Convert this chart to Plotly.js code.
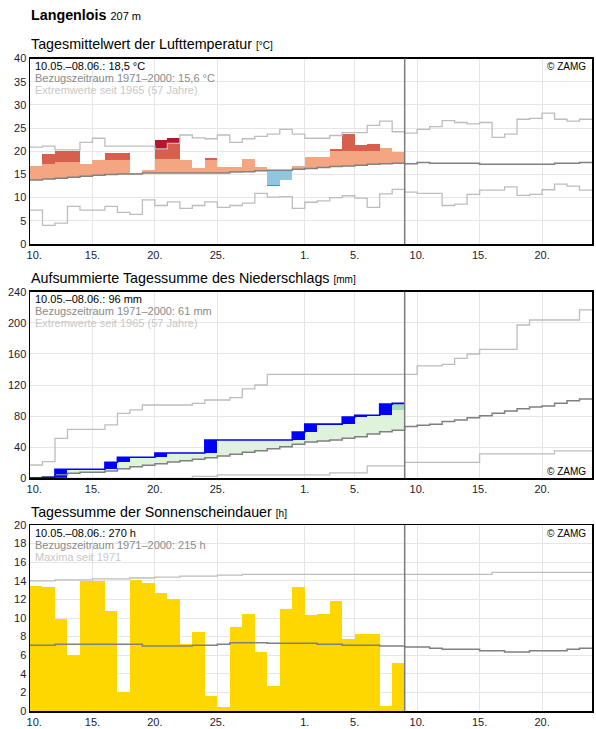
<!DOCTYPE html>
<html>
<head>
<meta charset="utf-8">
<script src="https://cdn.plot.ly/plotly-3.0.1.min.js"></script>
<style>
  html, body { margin: 0; padding: 0; background: #fff; }
  #chart { width: 596px; height: 729px; }
</style>
</head>
<body>
<div id="chart"></div>
<script>
// Tage ab 10. Mai (Index 0) bis 23. Juni (Index 44); gemessen wurde bis 8. Juni (Index 29)
const heute = 30;
const tickTage = [0, 5, 10, 15, 22, 26, 31, 36, 41];
// the first label sits just inside the frame, so it gets a little padding on the left
const tickText = ['\u2007\u200910.', '15.', '20.', '25.', '1.', '5.', '10.', '15.', '20.'];

// ---- Lufttemperatur [°C] ----
const tempMittel = [16.8, 19.4, 20.1, 20.1, 17.3, 18.1, 19.7, 19.7, 15.4, 16.0,
                    22.4, 22.9, 18.1, 16.4, 18.6, 16.6, 16.6, 18.3, 16.6, 12.4,
                    13.8, 16.8, 18.8, 18.8, 20.5, 23.7, 21.3, 21.6, 20.7, 19.9];
const tempWarmGrenze = [null, 17.3, 17.6, 17.7, null, null, 18.1, 18.1, null, null,
                        18.3, 18.3, null, null, 18.1, null, null, null, null, null,
                        null, null, null, null, 20.1, 20.1, 20.1, 20.1, null, null];
const tempKaltGrenze = [null, null, null, null, null, null, null, null, null, null,
                        null, null, null, null, null, null, null, null, null, 12.8,
                        null, null, null, null, null, null, null, null, null, null];
const tempKlima = [13.8, 14.0, 14.2, 14.4, 14.6, 14.8, 15.0, 15.1, 15.1, 15.3,
                   15.3, 15.3, 15.3, 15.3, 15.3, 15.3, 15.5, 15.6, 15.8, 15.9,
                   15.9, 16.1, 16.3, 16.5, 16.7, 16.8, 17.0, 17.2, 17.3, 17.4,
                   17.3, 17.6, 17.4, 17.4, 17.4, 17.4, 17.2, 17.2, 17.2, 17.2,
                   17.2, 17.2, 17.4, 17.4, 17.6];
const tempMax = [20.9, 21.1, 20.3, 20.3, 21.9, 22.8, 21.1, 21.1, 21.1, 21.1,
                 20.5, 21.7, 23.5, 22.9, 22.7, 23.5, 21.9, 22.7, 23.2, 23.7,
                 24.7, 23.7, 22.8, 22.8, 23.4, 24.0, 24.0, 25.6, 26.5, 24.2,
                 23.9, 24.7, 25.3, 26.6, 26.2, 25.9, 26.2, 23.0, 23.7, 26.9,
                 27.1, 28.2, 26.9, 26.5, 26.9];
const tempMin = [7.3, 4.0, 4.5, 8.1, 7.3, 7.3, 8.1, 6.8, 6.4, 9.5,
                 8.3, 9.1, 7.7, 8.3, 9.1, 7.9, 8.3, 8.8, 10.9, 10.1,
                 10.2, 7.7, 9.0, 9.3, 10.0, 10.4, 9.9, 7.9, 10.8, 11.8,
                 11.2, 10.9, 10.9, 8.3, 8.6, 10.7, 11.6, 11.6, 12.3, 10.5,
                 10.7, 11.7, 12.9, 12.5, 11.6];

// ---- Niederschlag, aufsummiert [mm] ----
const niedSumme = [0.3, 1.0, 11.6, 11.6, 11.6, 11.6, 20.6, 27.0, 27.0, 27.0,
                   32.6, 32.6, 32.6, 32.6, 49.3, 49.3, 49.3, 49.3, 49.3, 49.3,
                   49.3, 59.4, 69.7, 69.7, 69.7, 78.7, 81.0, 81.0, 95.4, 96.4];
const niedKlima = [0.8, 2.1, 4.6, 6.4, 7.7, 7.7, 9.4, 12.4, 15.0, 16.7,
                   18.8, 21.0, 22.6, 24.4, 26.5, 28.7, 31.0, 33.5, 35.5, 38.0,
                   40.6, 43.7, 46.7, 47.9, 49.3, 51.4, 53.5, 57.0, 60.0, 61.7,
                   66.5, 68.2, 69.5, 72.9, 75.0, 78.0, 80.6, 83.6, 86.6, 89.6,
                   91.7, 93.0, 96.5, 99.9, 102.0];
const niedMax = [17.1, 21.4, 51.4, 63.0, 63.0, 63.0, 68.6, 83.6, 87.9, 94.3,
                 94.3, 94.3, 94.3, 96.4, 100.7, 100.7, 103.7, 114.9, 120.0, 133.7,
                 133.7, 133.7, 133.7, 133.7, 133.7, 133.7, 133.7, 133.7, 133.7, 133.7,
                 133.7, 144.5, 144.5, 146.6, 154.3, 159.9, 165.9, 165.9, 165.9, 197.2,
                 203.6, 203.6, 203.6, 203.6, 216.5];
const niedMin = [0, 0, 0, 0, 0, 0, 0, 0, 0, 0,
                 0, 0, 0, 2.5, 2.5, 4.4, 4.4, 4.4, 4.4, 4.4,
                 4.4, 4.4, 4.4, 4.4, 7.0, 7.0, 7.0, 15.9, 15.9, 15.9,
                 20.6, 20.6, 20.6, 20.6, 20.6, 20.6, 31.3, 31.3, 31.3, 31.3,
                 31.3, 31.3, 35.2, 35.2, 35.2];
// Anteil des letzten Tages, der noch nicht geprüft ist [mm]
const niedVorlaeufig = [87.8, 95.5];

// ---- Sonnenscheindauer [h] ----
const sonne = [13.4, 13.3, 9.9, 6.0, 14.0, 14.0, 10.8, 2.0, 14.1, 13.8,
               12.7, 12.0, 7.2, 8.5, 1.6, 0.4, 9.0, 10.4, 6.3, 2.7,
               11.0, 13.3, 10.3, 10.4, 11.8, 7.7, 8.3, 8.3, 0.5, 5.2];
const sonneKlima = [7.06, 7.06, 7.17, 7.17, 7.17, 7.17, 7.17, 7.17, 7.17, 7.0,
                    7.0, 7.0, 7.0, 7.06, 7.06, 7.17, 7.35, 7.35, 7.35, 7.28,
                    7.28, 7.28, 7.28, 7.17, 7.17, 7.06, 7.06, 7.06, 6.99, 6.99,
                    6.88, 6.88, 6.74, 6.63, 6.63, 6.63, 6.49, 6.49, 6.34, 6.34,
                    6.49, 6.49, 6.49, 6.63, 6.74];
const sonneMax = [14.0, 14.0, 14.1, 14.1, 14.1, 14.2, 14.2, 14.2, 14.3, 14.3,
                  14.4, 14.4, 14.5, 14.5, 14.5, 14.6, 14.6, 14.7, 14.7, 14.7,
                  14.7, 14.7, 14.7, 14.7, 14.7, 14.7, 14.7, 14.7, 14.7, 14.7,
                  14.7, 14.7, 14.7, 14.7, 14.7, 14.7, 14.7, 14.9, 14.9, 14.9,
                  14.9, 14.9, 14.9, 14.9, 14.9];

// ---------- Hilfsfunktionen ----------
const FONT = 'Liberation Sans, Arial, Helvetica, sans-serif';
const C = {
  lachs: '#f4a582', rot: '#d6604d', dunkelrot: '#b2182b',
  hellblau: '#92c5de', blau: '#4393c3',
  nied: '#0000ff', gruen: '#dff2dc', gruenDunkel: '#a8dcb4', orange: '#f6a93b',
  sonne: '#ffd700', klima: '#808080', extrem: '#bdbdbd', gitter: '#e6e6e6'
};

// Treppenlinie: jeder Wert gilt für einen ganzen Tag
function stufe(werte, xa, ya, farbe, breite) {
  const x = [], y = [];
  werte.forEach((v, i) => { x.push(i); y.push(v); });
  x.push(werte.length); y.push(werte[werte.length - 1]);
  return { type: 'scatter', mode: 'lines', x, y, xaxis: xa, yaxis: ya,
           line: { shape: 'hv', color: farbe, width: breite }, hoverinfo: 'skip' };
}

// Balkenabschnitte von unten nach oben für einen Tag
function balken(von, bis, xa, ya, farbe) {
  const x = [], base = [], y = [];
  for (let i = 0; i < von.length; i++) {
    if (von[i] == null || bis[i] == null) continue;
    const lo = Math.min(von[i], bis[i]), hi = Math.max(von[i], bis[i]);
    if (hi - lo <= 0) continue;
    x.push(i + 0.5); base.push(lo); y.push(hi - lo);
  }
  return { type: 'bar', x, y, base, width: 1, xaxis: xa, yaxis: ya,
           marker: { color: farbe, line: { width: 0 } }, hoverinfo: 'skip' };
}

const n = tempMittel.length;
const traces = [];

// Temperatur: warme und kalte Abweichung vom Klimamittel
const wUnten = [], wLachsOben = [], wRotOben = [], wRekordOben = [];
const kOben = [], kHellUnten = [], kBlauUnten = [];
for (let i = 0; i < n; i++) {
  const v = tempMittel[i], k = tempKlima[i];
  if (v >= k) {
    const g = tempWarmGrenze[i] != null ? tempWarmGrenze[i] : v;
    const r = Math.min(v, tempMax[i]);
    wUnten.push(k);
    wLachsOben.push(Math.min(v, g));
    wRotOben.push(v > g ? r : null);
    wRekordOben.push(v > tempMax[i] ? v : null);
    kOben.push(null); kHellUnten.push(null); kBlauUnten.push(null);
  } else {
    const g = tempKaltGrenze[i] != null ? tempKaltGrenze[i] : v;
    wUnten.push(null); wLachsOben.push(null); wRotOben.push(null); wRekordOben.push(null);
    kOben.push(k); kHellUnten.push(Math.max(v, g)); kBlauUnten.push(v < g ? v : null);
  }
}
traces.push(balken(wUnten, wLachsOben, 'x', 'y', C.lachs));
traces.push(balken(wLachsOben.map((v, i) => wRotOben[i] != null ? v : null), wRotOben, 'x', 'y', C.rot));
traces.push(balken(tempMax.slice(0, n).map((v, i) => wRekordOben[i] != null ? v : null), wRekordOben, 'x', 'y', C.dunkelrot));
traces.push(balken(kOben, kHellUnten, 'x', 'y', C.hellblau));
traces.push(balken(kHellUnten.map((v, i) => kBlauUnten[i] != null ? v : null), kBlauUnten, 'x', 'y', C.blau));
traces.push(stufe(tempMax, 'x', 'y', C.extrem, 1.3));
traces.push(stufe(tempMin, 'x', 'y', C.extrem, 1.3));
traces.push(stufe(tempKlima, 'x', 'y', C.klima, 1.5));

// Niederschlag
const vorher = niedSumme.map((v, i) => i === 0 ? 0 : niedSumme[i - 1]);
const gUnten = [], gOben = [], oUnten = [], oOben = [];
for (let i = 0; i < n; i++) {
  const k = niedKlima[i];
  const p = i === n - 1 ? niedVorlaeufig[0] : vorher[i];
  if (p > k) { gUnten.push(k); gOben.push(p); } else { gUnten.push(null); gOben.push(null); }
  if (niedSumme[i] < k) { oUnten.push(niedSumme[i]); oOben.push(k); } else { oUnten.push(null); oOben.push(null); }
}
traces.push(balken(gUnten, gOben, 'x2', 'y2', C.gruen));
traces.push(balken(oUnten, oOben, 'x2', 'y2', C.orange));
const vUnten = niedSumme.map((v, i) => i === n - 1 ? niedVorlaeufig[0] : null);
const vOben = niedSumme.map((v, i) => i === n - 1 ? niedVorlaeufig[1] : null);
traces.push(balken(vUnten, vOben, 'x2', 'y2', C.gruenDunkel));
const bUnten = niedSumme.map((v, i) => i === n - 1 ? niedVorlaeufig[1] : vorher[i]);
traces.push(balken(bUnten, niedSumme, 'x2', 'y2', C.nied));
traces.push(stufe(niedMax, 'x2', 'y2', C.extrem, 1.3));
traces.push(stufe(niedMin, 'x2', 'y2', C.extrem, 1.3));
traces.push(stufe(niedKlima, 'x2', 'y2', C.klima, 1.5));
traces.push(stufe(niedSumme, 'x2', 'y2', C.nied, 1.6));

// Sonnenschein
traces.push(balken(sonne.map(() => 0), sonne, 'x3', 'y3', C.sonne));
traces.push(stufe(sonneMax, 'x3', 'y3', C.extrem, 1.3));
traces.push(stufe(sonneKlima, 'x3', 'y3', C.klima, 1.5));

// ---------- Achsen ----------
const H = 729;
function dom(oben, unten) { return [1 - unten / H, 1 - oben / H]; }
const xBasis = {
  range: [0, 45], tickvals: tickTage, ticktext: tickText,
  showgrid: true, gridcolor: C.gitter, gridwidth: 1,
  showline: true, linecolor: '#000', linewidth: 1.5, mirror: true,
  zeroline: false, ticks: '', fixedrange: true,
  tickfont: { family: FONT, size: 11, color: '#1a1a2e' }
};
function yAchse(range, dtick, d, xa) {
  return {
    range, dtick, domain: d, anchor: xa,
    showgrid: true, gridcolor: C.gitter, gridwidth: 1,
    showline: true, linecolor: '#000', linewidth: 1.5, mirror: true,
    zeroline: false, ticks: '', fixedrange: true,
    tickfont: { family: FONT, size: 11, color: '#1a1a2e' }
  };
}
const d1 = dom(58.5, 244), d2 = dom(291.7, 478.3), d3 = dom(525, 711);

// ---------- Texte ----------
function panelText(ya, zeilen, zamgOben) {
  const [y0, y1] = ya === 'y' ? d1 : ya === 'y2' ? d2 : d3;
  const hPx = (y1 - y0) * H;
  const farben = ['#000', '#8a8a8a', '#c8c8c8'];
  const xr = ya === 'y' ? 'x domain' : ya === 'y2' ? 'x2 domain' : 'x3 domain';
  const yr = ya + ' domain';
  const a = zeilen.map((t, i) => ({
    text: t, xref: xr, yref: yr, x: 3 / 562, y: 1 - (7.5 + 12 * i) / hPx,
    xanchor: 'left', yanchor: 'middle', showarrow: false,
    font: { family: FONT, size: 11, color: farben[i] }
  }));
  a.push({
    text: '© ZAMG', xref: xr, yref: yr, x: 1 - 4 / 562,
    y: zamgOben ? 1 - 8 / hPx : 6.5 / hPx,
    xanchor: 'right', yanchor: 'middle', showarrow: false,
    font: { family: FONT, size: 10, color: '#000' }
  });
  return a;
}
function titel(text, einheit, yPx) {
  return {
    text: text + ' <span style="font-size:10px">[' + einheit + ']</span>',
    xref: 'paper', yref: 'paper', x: -1 / 562, y: 1 - yPx / H,
    xanchor: 'left', yanchor: 'middle', showarrow: false,
    font: { family: FONT, size: 14.3, color: '#000' }
  };
}

const annotations = [
  { text: '<b>Langenlois</b> <span style="font-size:11px">207 m</span>',
    xref: 'paper', yref: 'paper', x: -1 / 562, y: 1 - 15 / H,
    xanchor: 'left', yanchor: 'middle', showarrow: false,
    font: { family: FONT, size: 14.3, color: '#000' } },
  titel('Tagesmittelwert der Lufttemperatur', '°C', 44),
  titel('Aufsummierte Tagessumme des Niederschlags', 'mm', 278),
  titel('Tagessumme der Sonnenscheindauer', 'h', 512),
  ...panelText('y', ['10.05.–08.06.: 18,5 °C', 'Bezugszeitraum 1971–2000: 15,6 °C', 'Extremwerte seit 1965 (57 Jahre)'], true),
  ...panelText('y2', ['10.05.–08.06.: 96 mm', 'Bezugszeitraum 1971–2000: 61 mm', 'Extremwerte seit 1965 (57 Jahre)'], false),
  ...panelText('y3', ['10.05.–08.06.: 270 h', 'Bezugszeitraum 1971–2000: 215 h', 'Maxima seit 1971'], true)
];

const shapes = ['', '2', '3'].map(s => ({
  type: 'line', xref: 'x' + s, yref: 'y' + s + ' domain',
  x0: heute, x1: heute, y0: 0, y1: 1,
  line: { color: '#7a7a7a', width: 1.5 }
}));

const layout = {
  width: 596, height: 729,
  margin: { l: 30, r: 4, t: 0, b: 0 },
  paper_bgcolor: '#fff', plot_bgcolor: '#fff',
  showlegend: false, barmode: 'overlay', bargap: 0,
  font: { family: FONT, size: 11, color: '#000' },
  xaxis:  Object.assign({}, xBasis, { anchor: 'y',  domain: [0, 1] }),
  xaxis2: Object.assign({}, xBasis, { anchor: 'y2', domain: [0, 1] }),
  xaxis3: Object.assign({}, xBasis, { anchor: 'y3', domain: [0, 1] }),
  yaxis:  yAchse([0, 40], 5, d1, 'x'),
  yaxis2: yAchse([0, 240], 40, d2, 'x2'),
  yaxis3: yAchse([0, 20], 2, d3, 'x3'),
  annotations, shapes
};

Plotly.newPlot('chart', traces, layout, { staticPlot: true, displayModeBar: false });
</script>
</body>
</html>
